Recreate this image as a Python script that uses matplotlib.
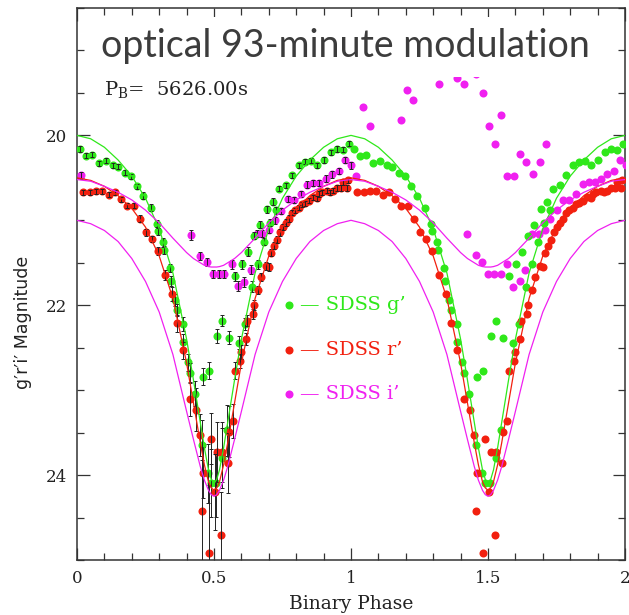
import numpy as np
import matplotlib
matplotlib.use("Agg")
import matplotlib.pyplot as plt
from matplotlib.patches import Rectangle

# ---------------- data ----------------
# SDSS g' : phase 0-1 (plotted with error bars), repeated at phase+1 without
g_phase = [0.010, 0.033, 0.056, 0.080, 0.105, 0.130, 0.151, 0.175, 0.197, 0.219,
           0.242, 0.269, 0.292, 0.294, 0.314, 0.319, 0.338, 0.342, 0.358, 0.366,
           0.386, 0.388, 0.406, 0.412, 0.430, 0.455, 0.478, 0.490, 0.507, 0.529,
           0.548, 0.459, 0.483, 0.510, 0.528, 0.556, 0.592, 0.613, 0.577, 0.601,
           0.623, 0.639, 0.646, 0.661, 0.669, 0.682, 0.692, 0.704, 0.714, 0.728,
           0.738, 0.763, 0.785, 0.809, 0.831, 0.853, 0.877, 0.901, 0.926, 0.948,
           0.972, 0.994]
g_mag = [20.16, 20.24, 20.23, 20.33, 20.30, 20.35, 20.37, 20.44, 20.48, 20.60,
         20.71, 20.85, 21.04, 21.13, 21.26, 21.35, 21.56, 21.71, 21.94, 22.06,
         22.22, 22.43, 22.67, 22.80, 23.04, 23.65, 23.98, 24.09, 24.09, 23.80,
         23.47, 22.84, 22.77, 22.36, 22.18, 22.38, 22.44, 22.22, 21.66, 21.52,
         21.37, 21.78, 21.18, 21.52, 21.05, 21.25, 20.87, 21.03, 20.78, 20.88,
         20.63, 20.59, 20.47, 20.35, 20.31, 20.30, 20.35, 20.29, 20.20, 20.16,
         20.17, 20.10]
g_err = [0.03, 0.03, 0.03, 0.03, 0.03, 0.03, 0.03, 0.03, 0.03, 0.03,
         0.04, 0.04, 0.04, 0.04, 0.05, 0.05, 0.05, 0.06, 0.07, 0.07,
         0.08, 0.09, 0.10, 0.12, 0.15, 0.30, 0.35, 0.40, 0.40, 0.35,
         0.30, 0.10, 0.10, 0.08, 0.07, 0.08, 0.08, 0.07, 0.05, 0.05,
         0.05, 0.06, 0.04, 0.05, 0.04, 0.04, 0.04, 0.04, 0.04, 0.04,
         0.03, 0.03, 0.03, 0.03, 0.03, 0.03, 0.03, 0.03, 0.03, 0.03,
         0.03, 0.03]

# SDSS r'
r_phase = [0.022, 0.046, 0.069, 0.092, 0.116, 0.139, 0.161, 0.182, 0.207, 0.229,
           0.251, 0.275, 0.297, 0.321, 0.345, 0.364, 0.388, 0.412, 0.434, 0.449,
           0.456, 0.461, 0.481, 0.488, 0.504, 0.512, 0.526, 0.531, 0.550, 0.556,
           0.571, 0.577, 0.595, 0.599, 0.617, 0.622, 0.644, 0.646, 0.662, 0.670,
           0.690, 0.700, 0.708, 0.719, 0.731, 0.741, 0.753, 0.763, 0.772, 0.785,
           0.797, 0.809, 0.821, 0.831, 0.848, 0.862, 0.875, 0.884, 0.894, 0.911,
           0.923, 0.936, 0.948, 0.965, 0.970, 0.984, 0.990]
r_mag = [20.67, 20.67, 20.66, 20.66, 20.70, 20.67, 20.75, 20.83, 20.83, 20.98,
         21.14, 21.22, 21.36, 21.64, 21.87, 22.21, 22.53, 23.10, 23.23, 23.53,
         24.42, 23.97, 24.92, 23.57, 24.20, 23.73, 24.70, 23.73, 23.86, 23.49,
         23.36, 22.77, 22.66, 22.55, 22.40, 22.18, 22.10, 22.00, 21.82, 21.67,
         21.54, 21.55, 21.38, 21.30, 21.23, 21.14, 21.08, 21.03, 20.98, 20.91,
         20.88, 20.85, 20.81, 20.80, 20.77, 20.73, 20.74, 20.69, 20.67, 20.65,
         20.67, 20.65, 20.62, 20.62, 20.55, 20.62, 20.53]
r_err = [0.03, 0.03, 0.03, 0.03, 0.03, 0.03, 0.03, 0.03, 0.03, 0.04,
         0.04, 0.04, 0.05, 0.06, 0.08, 0.10, 0.10, 0.20, 0.25, 0.25,
         0.60, 0.30, 0.80, 0.30, 0.45, 0.35, 0.50, 0.35, 0.35, 0.30,
         0.20, 0.10, 0.08, 0.08, 0.07, 0.07, 0.06, 0.06, 0.05, 0.05,
         0.05, 0.05, 0.04, 0.04, 0.04, 0.04, 0.04, 0.04, 0.04, 0.03,
         0.03, 0.03, 0.03, 0.03, 0.03, 0.03, 0.03, 0.03, 0.03, 0.03,
         0.03, 0.03, 0.03, 0.03, 0.03, 0.03, 0.03]

# SDSS i' : first cycle (with error bars)
i_phase_a = [0.015, 0.416, 0.450, 0.473, 0.498, 0.518, 0.538, 0.566, 0.589, 0.609,
             0.634, 0.656, 0.676, 0.700, 0.721, 0.746, 0.769, 0.793, 0.816, 0.838,
             0.860, 0.882, 0.909, 0.931, 0.955, 0.977, 1.000]
i_mag_a = [20.47, 21.17, 21.42, 21.49, 21.63, 21.63, 21.63, 21.52, 21.77, 21.73,
           21.58, 21.16, 21.16, 21.11, 21.00, 20.89, 20.75, 20.76, 20.69, 20.58,
           20.56, 20.56, 20.51, 20.46, 20.42, 20.29, 20.35]
i_err_a = [0.04, 0.06, 0.05, 0.05, 0.05, 0.05, 0.05, 0.05, 0.06, 0.06,
           0.05, 0.04, 0.04, 0.04, 0.04, 0.04, 0.04, 0.04, 0.04, 0.04,
           0.04, 0.04, 0.04, 0.04, 0.04, 0.04, 0.04]
# SDSS i' : second cycle (no error bars)
i_phase_b = [1.020, 1.043, 1.069, 1.182, 1.205, 1.227, 1.320, 1.388, 1.412, 1.455,
             1.480, 1.502, 1.525, 1.547, 1.422, 1.456, 1.478, 1.501, 1.522, 1.546,
             1.571, 1.592, 1.617, 1.635, 1.571, 1.595, 1.617, 1.639, 1.663, 1.690,
             1.712, 1.662, 1.685, 1.707, 1.728, 1.753, 1.775, 1.797, 1.820, 1.845,
             1.869, 1.891, 1.914, 1.936, 1.960, 1.982, 2.004]
i_mag_b = [20.48, 19.66, 19.89, 19.82, 19.47, 19.58, 19.40, 19.32, 19.40, 19.28,
           19.50, 19.89, 20.10, 19.76, 21.16, 21.41, 21.49, 21.63, 21.63, 21.63,
           21.52, 21.78, 21.72, 21.58, 20.48, 20.48, 20.22, 20.31, 20.46, 20.31,
           20.10, 21.16, 21.16, 21.11, 20.99, 20.88, 20.76, 20.76, 20.69, 20.57,
           20.55, 20.55, 20.51, 20.46, 20.42, 20.29, 20.35]

# model light curves, half cycle (phase 0 -> 0.5), symmetric about 0.5
curve_phase = [0.0, 0.05, 0.10, 0.15, 0.20, 0.25, 0.30, 0.35, 0.40, 0.425,
               0.45, 0.465, 0.48, 0.49, 0.50]
curve_g = [20.00, 20.04, 20.14, 20.29, 20.48, 20.74, 21.10, 21.62, 22.40, 22.88,
           23.38, 23.68, 23.94, 24.05, 24.10]
curve_r = [20.50, 20.53, 20.60, 20.71, 20.86, 21.08, 21.42, 21.92, 22.68, 23.15,
           23.62, 23.88, 24.08, 24.15, 24.18]
curve_i_hi = [20.52, 20.54, 20.60, 20.67, 20.76, 20.88, 21.03, 21.21, 21.38, 21.45,
              21.50, 21.53, 21.545, 21.55, 21.55]
curve_i_lo = [21.00, 21.04, 21.12, 21.25, 21.45, 21.72, 22.08, 22.58, 23.25, 23.58,
              23.90, 24.06, 24.18, 24.23, 24.25]

x_ticks = [0, 0.5, 1, 1.5, 2]
x_ticklabels = ["0", "0.5", "1", "1.5", "2"]
y_ticks = [20, 22, 24]
y_ticklabels = ["20", "22", "24"]

# ---------------- styling ----------------
C_G = "#2fe81a"
C_R = "#f2200f"
C_I = "#f020f0"
SERIF = "DejaVu Serif"

plt.rcParams["mathtext.fontset"] = "dejavuserif"

fig = plt.figure(figsize=(6.29, 6.15), dpi=100)
ax = fig.add_axes([77 / 629, 1 - 560 / 615, (625 - 77) / 629, (560 - 8) / 615])


def full_curve(half):
    ph = np.asarray(curve_phase)
    v = np.asarray(half)
    p1 = np.concatenate([ph, 1 - ph[::-1][1:]])
    v1 = np.concatenate([v, v[::-1][1:]])
    return np.concatenate([p1, p1[1:] + 1]), np.concatenate([v1, v1[1:]])


ms = 5.8
ebkw = dict(fmt="none", ecolor="#222222", elinewidth=0.7, capsize=1.6, capthick=0.7)
# magenta
ax.plot(i_phase_a, i_mag_a, "o", color=C_I, ms=ms, mec="none", zorder=3)
ax.errorbar(i_phase_a, i_mag_a, yerr=i_err_a, zorder=3.1, **ebkw)
ax.plot(i_phase_b, i_mag_b, "o", color=C_I, ms=ms, mec="none", zorder=3)
# green
ax.plot(g_phase, g_mag, "o", color=C_G, ms=ms, mec="none", zorder=3.2)
ax.errorbar(g_phase, g_mag, yerr=g_err, zorder=3.3, **ebkw)
ax.plot(np.asarray(g_phase) + 1, g_mag, "o", color=C_G, ms=ms, mec="none", zorder=3.2)
# red
ax.plot(r_phase, r_mag, "o", color=C_R, ms=ms, mec="none", zorder=3.4)
ax.errorbar(r_phase, r_mag, yerr=r_err, zorder=3.5, **ebkw)
ax.plot(np.asarray(r_phase) + 1, r_mag, "o", color=C_R, ms=ms, mec="none", zorder=3.4)

# model curves
for half, col in [(curve_g, C_G), (curve_r, C_R), (curve_i_hi, C_I), (curve_i_lo, C_I)]:
    px, py = full_curve(half)
    ax.plot(px, py, "-", color=col, lw=0.9, zorder=4)

ax.set_xlim(0, 2)
ax.set_ylim(25.0, 18.5)
ax.set_xticks(x_ticks)
ax.set_xticklabels(x_ticklabels)
ax.set_xticks(np.arange(0, 2.0001, 0.1), minor=True)
ax.set_yticks(y_ticks)
ax.set_yticklabels(y_ticklabels)
ax.set_yticks(np.arange(18.5, 25.0001, 0.5), minor=True)
ax.tick_params(which="both", direction="in", top=True, right=True, color="#333333",
               width=0.9, labelsize=12, pad=7)
ax.tick_params(which="major", length=9)
ax.tick_params(which="minor", length=5)
for lab in ax.get_xticklabels() + ax.get_yticklabels():
    lab.set_fontfamily(SERIF)
    lab.set_color("#222222")
for s in ax.spines.values():
    s.set_linewidth(1.1)
    s.set_color("#333333")

ax.set_xlabel("Binary Phase", fontsize=13.5, family=SERIF, color="#222222", labelpad=6)
ax.set_ylabel("g\u2032r\u2032i\u2032 Magnitude", fontsize=12.5, family="DejaVu Sans",
              color="#222222")
ax.yaxis.set_label_coords(-0.082, 0.43)

# P_B annotation
ax.text(0.10, 19.46, r"P$_{\rm B}$=  5626.00s", fontsize=14, family=SERIF,
        color="#222222", va="center", ha="left", zorder=6)

# legend-like labels
for yv, col, lab in [(22.0, C_G, "g\u2019"), (22.53, C_R, "r\u2019"), (23.04, C_I, "i\u2019")]:
    ax.plot([0.773], [yv], "o", color=col, ms=ms, mec="none", zorder=6)
    ax.text(0.815, yv, "\u2014 SDSS " + lab, color=col, fontsize=14, family=SERIF,
            va="center", ha="left", zorder=6)

# title box overlay
ax.add_patch(Rectangle((0.015, 0.875), 0.965, 0.108, transform=ax.transAxes,
                       facecolor="white", edgecolor="none", zorder=5))
fig.text(345 / 629, 1 - 46 / 615, "optical 93-minute modulation", fontsize=27,
         family="Lato", color="#3c3c3c", ha="center", va="center", zorder=7)

fig.savefig("out.png", dpi=100, facecolor="white")
